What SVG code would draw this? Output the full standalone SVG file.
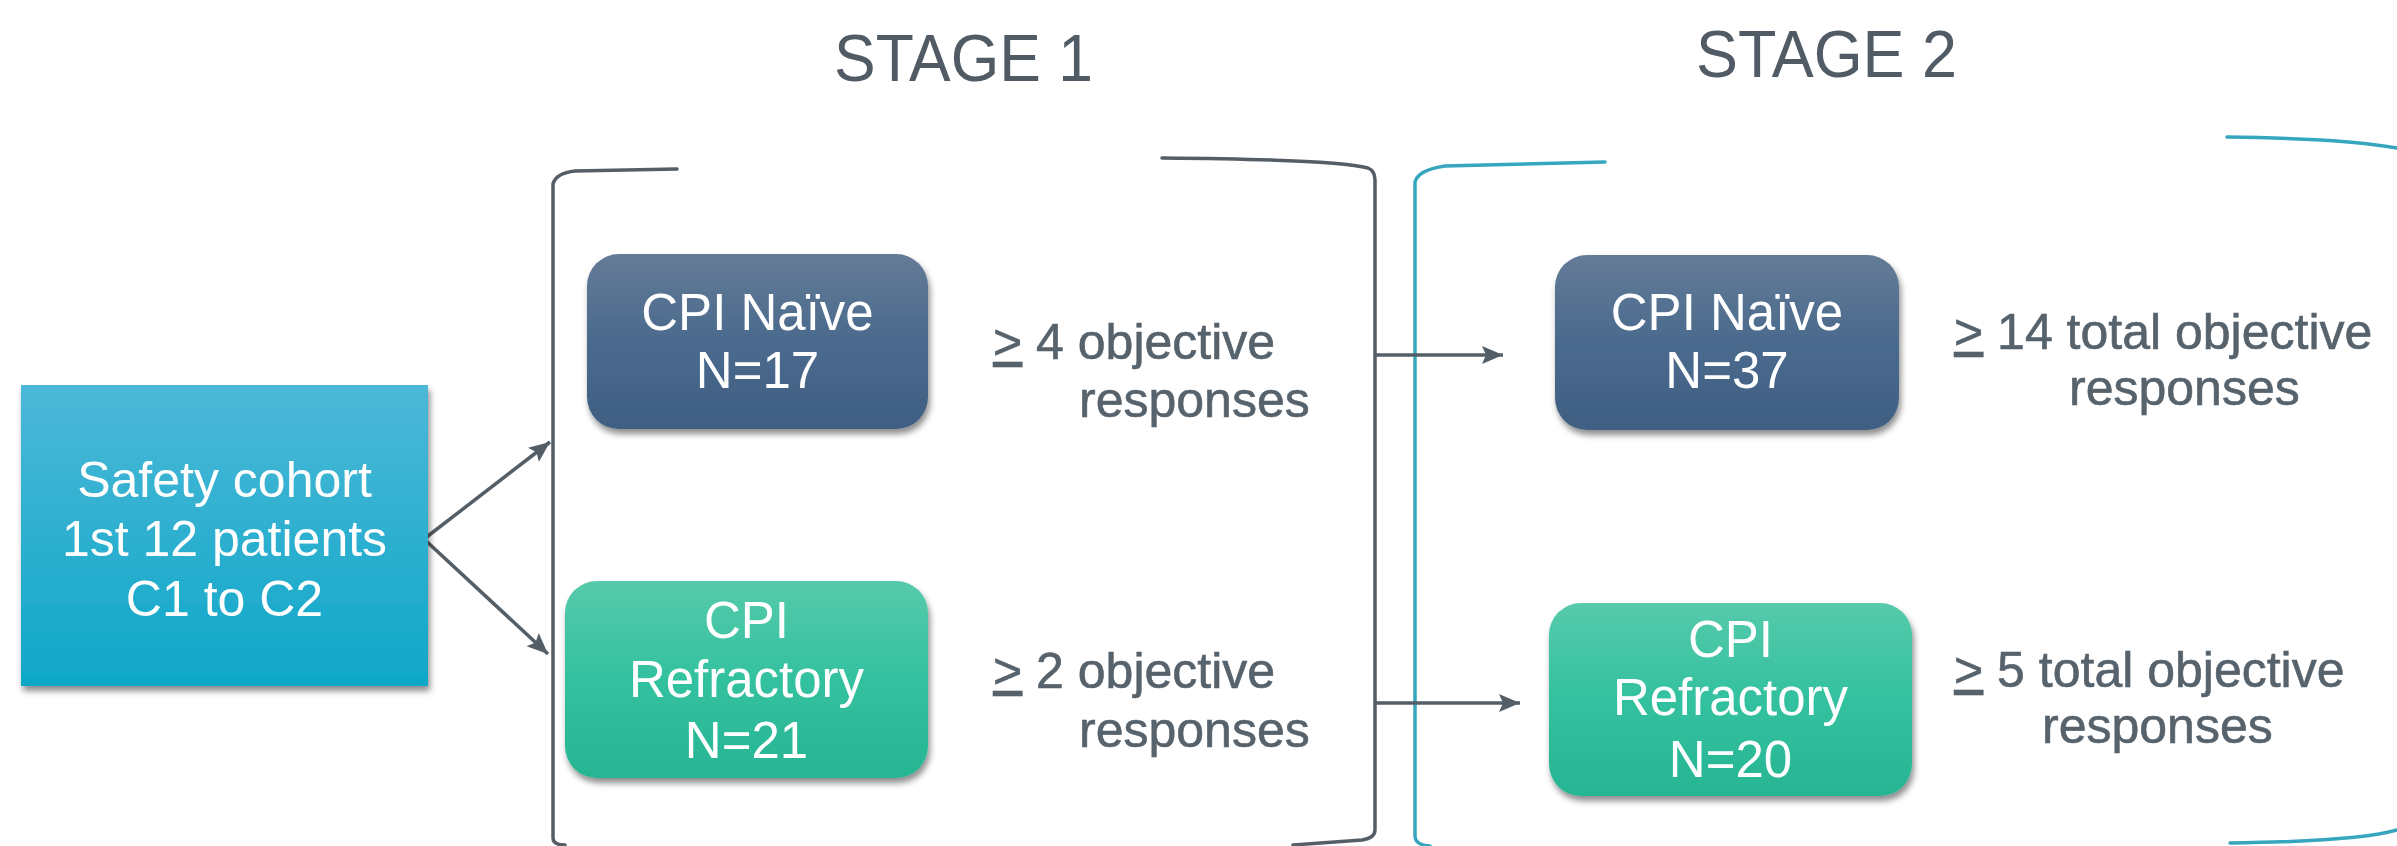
<svg xmlns="http://www.w3.org/2000/svg" width="2397" height="846" viewBox="0 0 2397 846">
  <defs>
    <linearGradient id="gSafety" x1="0" y1="0" x2="0" y2="1">
      <stop offset="0" stop-color="#4cb8d8"/>
      <stop offset="1" stop-color="#0fa7c8"/>
    </linearGradient>
    <linearGradient id="gNavy" x1="0" y1="0" x2="0" y2="1">
      <stop offset="0" stop-color="#647b97"/>
      <stop offset="0.5" stop-color="#4a6a8d"/>
      <stop offset="1" stop-color="#3f5f82"/>
    </linearGradient>
    <linearGradient id="gGreen" x1="0" y1="0" x2="0" y2="1">
      <stop offset="0" stop-color="#56caab"/>
      <stop offset="0.5" stop-color="#33c19f"/>
      <stop offset="1" stop-color="#27b593"/>
    </linearGradient>
    <filter id="shadow" x="-10%" y="-10%" width="120%" height="130%">
      <feDropShadow dx="2" dy="5" stdDeviation="3" flood-color="#000" flood-opacity="0.45"/>
    </filter>
    <marker id="arrow" markerUnits="userSpaceOnUse" markerWidth="22" markerHeight="20" refX="21" refY="10" orient="auto">
      <path d="M0,1 L21,10 L0,19 L4,10 Z" fill="#545e67"/>
    </marker>
  </defs>
  <style>
    .boxtext { font-family: "Liberation Sans", Arial, sans-serif; font-size: 51px; fill: #ffffff; text-anchor: middle; }
    .note { font-family: "Liberation Sans", Arial, sans-serif; font-size: 50px; fill: #56626c; stroke: #56626c; stroke-width: 0.6; }
    .stage { font-family: "Liberation Sans", Arial, sans-serif; font-size: 66px; fill: #505b65; }
    .conn { stroke: #545e67; stroke-width: 3.5; fill: none; }
    .bracket { stroke: #555e66; stroke-width: 3.5; fill: none; stroke-linecap: round; }
    .bracket2 { stroke: #36a6bf; stroke-width: 3.5; fill: none; stroke-linecap: round; }
  </style>
  <rect width="2397" height="846" fill="#ffffff"/>

  <g id="stage-labels">
    <text class="stage" x="834" y="81" textLength="259" lengthAdjust="spacingAndGlyphs">STAGE 1</text>
    <text class="stage" x="1696" y="77" textLength="261" lengthAdjust="spacingAndGlyphs">STAGE 2</text>
  </g>

  <g id="stage1-bracket">
    <path class="bracket" d="M677,169 L575,171 Q556,173 553,184 L553,838 Q553,845 565,845"/>
    <path class="bracket" d="M1162,158 C1280,159 1345,162 1368,168 Q1375,171 1375,180 L1375,830 Q1375,838 1362,840 L1293,845"/>
  </g>

  <g id="stage2-bracket">
    <path class="bracket2" d="M1605,162 L1445,166 Q1418,170 1415,182 L1415,836 Q1415,845 1430,846"/>
    <path class="bracket2" d="M2227,137 C2300,138 2360,141 2397,148"/>
    <path class="bracket2" d="M2230,843 C2310,842 2370,838 2397,830"/>
  </g>

  <g id="connectors">
    <line class="conn" x1="424" y1="539" x2="550" y2="442" marker-end="url(#arrow)"/>
    <line class="conn" x1="424" y1="539" x2="548" y2="654" marker-end="url(#arrow)"/>
    <line class="conn" x1="1375" y1="355" x2="1503" y2="355" marker-end="url(#arrow)"/>
    <line class="conn" x1="1375" y1="703" x2="1520" y2="703" marker-end="url(#arrow)"/>
  </g>

  <g id="safety-cohort">
    <rect x="21" y="385" width="407" height="301" fill="url(#gSafety)" filter="url(#shadow)"/>
    <text class="boxtext" x="224.5" y="497" style="font-size:50px">Safety cohort</text>
    <text class="boxtext" x="224.5" y="556" style="font-size:50px">1st 12 patients</text>
    <text class="boxtext" x="224.5" y="616" style="font-size:50px">C1 to C2</text>
  </g>

  <g id="stage1-naive">
    <rect x="587" y="254" width="341" height="175" rx="32" fill="url(#gNavy)" filter="url(#shadow)"/>
    <text class="boxtext" x="757.5" y="330">CPI Naïve</text>
    <text class="boxtext" x="757.5" y="388">N=17</text>
  </g>

  <g id="stage1-naive-note">
    <text class="note" x="993" y="359"><tspan text-decoration="underline">&gt;</tspan> 4 objective</text>
    <text class="note" x="1079" y="417">responses</text>
  </g>

  <g id="stage1-refractory">
    <rect x="565" y="581" width="363" height="197" rx="32" fill="url(#gGreen)" filter="url(#shadow)"/>
    <text class="boxtext" x="746.5" y="638">CPI</text>
    <text class="boxtext" x="746.5" y="697">Refractory</text>
    <text class="boxtext" x="746.5" y="758">N=21</text>
  </g>

  <g id="stage1-refractory-note">
    <text class="note" x="993" y="688"><tspan text-decoration="underline">&gt;</tspan> 2 objective</text>
    <text class="note" x="1079" y="747">responses</text>
  </g>

  <g id="stage2-naive">
    <rect x="1555" y="255" width="344" height="175" rx="32" fill="url(#gNavy)" filter="url(#shadow)"/>
    <text class="boxtext" x="1727" y="330">CPI Naïve</text>
    <text class="boxtext" x="1727" y="388">N=37</text>
  </g>

  <g id="stage2-naive-note">
    <text class="note" x="1954" y="349"><tspan text-decoration="underline">&gt;</tspan> 14 total objective</text>
    <text class="note" x="2069" y="405">responses</text>
  </g>

  <g id="stage2-refractory">
    <rect x="1549" y="603" width="363" height="193" rx="32" fill="url(#gGreen)" filter="url(#shadow)"/>
    <text class="boxtext" x="1730.5" y="657">CPI</text>
    <text class="boxtext" x="1730.5" y="715">Refractory</text>
    <text class="boxtext" x="1730.5" y="777">N=20</text>
  </g>

  <g id="stage2-refractory-note">
    <text class="note" x="1954" y="687"><tspan text-decoration="underline">&gt;</tspan> 5 total objective</text>
    <text class="note" x="2042" y="743">responses</text>
  </g>
</svg>
